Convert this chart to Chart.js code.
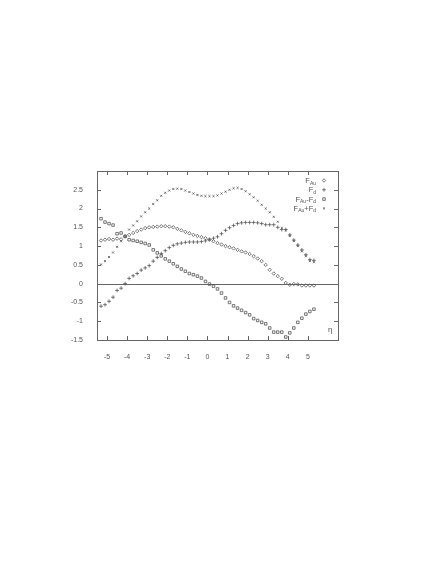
<!DOCTYPE html>
<html>
<head>
<meta charset="utf-8">
<script src="https://cdn.jsdelivr.net/npm/chart.js@4/dist/chart.umd.min.js"></script>
<style>
  body { margin: 0; background: #fff; }
  canvas { display: block; }
</style>
</head>
<body>
<canvas id="canvas" width="436" height="564"></canvas>
<script>
// eta values of the sample points
const eta = [-5.3,-5.1,-4.9,-4.7,-4.5,-4.3,-4.1,-3.9,-3.7,-3.5,-3.3,-3.1,-2.9,-2.7,-2.5,-2.3,-2.1,-1.9,-1.7,-1.5,
  -1.3,-1.1,-0.9,-0.7,-0.5,-0.3,-0.1,0.1,0.3,0.5,0.7,0.9,1.1,1.3,1.5,1.7,1.9,2.1,2.3,2.5,
  2.7,2.9,3.1,3.3,3.5,3.7,3.9,4.1,4.3,4.5,4.7,4.9,5.1,5.3];

const fAu = [1.15,1.17,1.19,1.17,1.2,1.18,1.26,1.3,1.35,1.4,1.44,1.48,1.5,1.51,1.52,1.53,1.53,1.52,1.5,1.46,
  1.42,1.38,1.34,1.3,1.27,1.24,1.21,1.17,1.13,1.08,1.04,1.0,0.97,0.94,0.9,0.86,0.83,0.79,0.73,0.67,
  0.6,0.5,0.37,0.27,0.2,0.13,0.02,-0.03,-0.01,-0.02,-0.05,-0.05,-0.05,-0.05];

const fD = [-0.6,-0.56,-0.47,-0.36,-0.18,-0.12,0.0,0.14,0.21,0.27,0.36,0.42,0.48,0.6,0.7,0.8,0.88,0.96,1.02,1.06,
  1.08,1.1,1.11,1.11,1.11,1.12,1.14,1.18,1.21,1.25,1.33,1.42,1.49,1.55,1.6,1.62,1.63,1.63,1.63,1.62,
  1.6,1.57,1.57,1.57,1.5,1.44,1.44,1.3,1.16,1.03,0.9,0.77,0.64,0.62];

const fDiff = [1.73,1.64,1.6,1.56,1.33,1.35,1.26,1.17,1.15,1.13,1.1,1.07,1.03,0.9,0.82,0.74,0.66,0.6,0.53,0.46,
  0.39,0.33,0.27,0.24,0.2,0.15,0.06,-0.01,-0.07,-0.14,-0.25,-0.38,-0.5,-0.59,-0.65,-0.71,-0.77,-0.83,-0.93,-0.98,
  -1.03,-1.07,-1.18,-1.29,-1.29,-1.29,-1.42,-1.31,-1.18,-1.03,-0.92,-0.81,-0.74,-0.68];

const fSum = [0.51,0.6,0.71,0.83,0.98,1.13,1.26,1.44,1.55,1.66,1.79,1.9,2.0,2.12,2.22,2.34,2.42,2.48,2.52,2.53,
  2.52,2.48,2.44,2.4,2.36,2.34,2.33,2.33,2.33,2.35,2.4,2.45,2.5,2.54,2.55,2.52,2.46,2.38,2.3,2.21,
  2.1,2.0,1.9,1.78,1.65,1.48,1.42,1.27,1.14,1.0,0.86,0.73,0.6,0.57];

const xTicks = [-5,-4,-3,-2,-1,0,1,2,3,4,5];
const yTicks = [-1.5,-1,-0.5,0,0.5,1,1.5,2,2.5];

// legend text pieces: [text, isSubscript]
const legendLabels = [
  [['F',0],['Au',1]],
  [['F',0],['d',1]],
  [['F',0],['Au',1],['-',0],['F',0],['d',1]],
  [['F',0],['Au',1],['+',0],['F',0],['d',1]]
];

const ink = '#555';
const FONT = '"Liberation Sans", Arial, sans-serif';

function pts(ys) {
  return eta.map((e, i) => ({x: e, y: ys[i]}));
}

const series = [
  {data: pts(fAu), pointStyle: 'rectRot', pointRadius: 1.7},
  {data: pts(fD), pointStyle: 'cross', pointRadius: 1.9},
  {data: pts(fDiff), pointStyle: 'rect', pointRadius: 1.8},
  {data: pts(fSum), pointStyle: 'crossRot', pointRadius: 1.4}
];

const framePlugin = {
  id: 'frame',
  beforeDatasetsDraw(chart) {
    const {ctx, chartArea: a, scales: {x, y}} = chart;
    ctx.save();
    ctx.strokeStyle = '#666';
    ctx.lineWidth = 1;
    ctx.strokeRect(Math.round(a.left) + 0.5, Math.round(a.top) + 0.5,
      Math.round(a.right - a.left), Math.round(a.bottom - a.top));
    ctx.beginPath();
    const y0 = Math.round(y.getPixelForValue(0)) + 0.5;
    ctx.moveTo(a.left, y0);
    ctx.lineTo(a.right, y0);
    xTicks.forEach(v => {
      const px = Math.round(x.getPixelForValue(v)) + 0.5;
      ctx.moveTo(px, a.bottom); ctx.lineTo(px, a.bottom - 4);
      ctx.moveTo(px, a.top); ctx.lineTo(px, a.top + 4);
    });
    yTicks.forEach(v => {
      const py = Math.round(y.getPixelForValue(v)) + 0.5;
      ctx.moveTo(a.left, py); ctx.lineTo(a.left + 4, py);
      ctx.moveTo(a.right, py); ctx.lineTo(a.right - 4, py);
    });
    ctx.stroke();
    ctx.restore();
  },
  afterDraw(chart) {
    const {ctx, chartArea: a} = chart;
    ctx.save();
    ctx.textBaseline = 'alphabetic';
    const big = '7.5px ' + FONT, small = '5px ' + FONT;
    legendLabels.forEach((parts, i) => {
      const yb = a.top + 12 + i * 9.3;
      let w = 0;
      parts.forEach(p => { ctx.font = p[1] ? small : big; w += ctx.measureText(p[0]).width; });
      let xx = a.right - 22 - w;
      ctx.fillStyle = ink;
      parts.forEach(p => {
        ctx.font = p[1] ? small : big;
        ctx.fillText(p[0], xx, yb + (p[1] ? 1.5 : 0));
        xx += ctx.measureText(p[0]).width;
      });
      const ds = series[i];
      ctx.strokeStyle = ink;
      ctx.fillStyle = 'rgba(0,0,0,0)';
      ctx.lineWidth = 0.8;
      Chart.helpers.drawPoint(ctx, {pointStyle: ds.pointStyle, radius: ds.pointRadius, rotation: 0, borderWidth: 0.8},
        a.right - 14, yb - 2.5);
    });
    ctx.fillStyle = ink;
    ctx.font = '8px ' + FONT;
    ctx.fillText('\u03b7', a.right - 10, a.bottom - 8);
    ctx.restore();
  }
};

const ctx = document.getElementById('canvas').getContext('2d');
const myChart = new Chart(ctx, {
  type: 'scatter',
  data: {
    datasets: series.map(s => ({
      data: s.data,
      pointStyle: s.pointStyle,
      pointRadius: s.pointRadius,
      borderColor: ink,
      backgroundColor: 'rgba(0,0,0,0)',
      borderWidth: 0.8,
      showLine: false
    }))
  },
  options: {
    responsive: false,
    animation: false,
    layout: {padding: {left: 67, right: 98, top: 171, bottom: 204}},
    plugins: {legend: {display: false}, tooltip: {enabled: false}},
    scales: {
      x: {
        type: 'linear', min: -5.5, max: 6.5,
        grid: {display: false}, border: {display: false},
        afterBuildTicks: s => { s.ticks = xTicks.map(v => ({value: v})); },
        afterFit: s => { s.height = 20; },
        ticks: {color: ink, font: {family: FONT, size: 7}, padding: 5, maxRotation: 0,
          callback: v => String(v)}
      },
      y: {
        type: 'linear', min: -1.5, max: 3,
        grid: {display: false}, border: {display: false},
        afterBuildTicks: s => { s.ticks = yTicks.map(v => ({value: v})); },
        afterFit: s => { s.width = 30; },
        ticks: {color: ink, font: {family: FONT, size: 7}, padding: 6,
          callback: v => String(v)}
      }
    }
  },
  plugins: [framePlugin]
});
</script>
</body>
</html>
